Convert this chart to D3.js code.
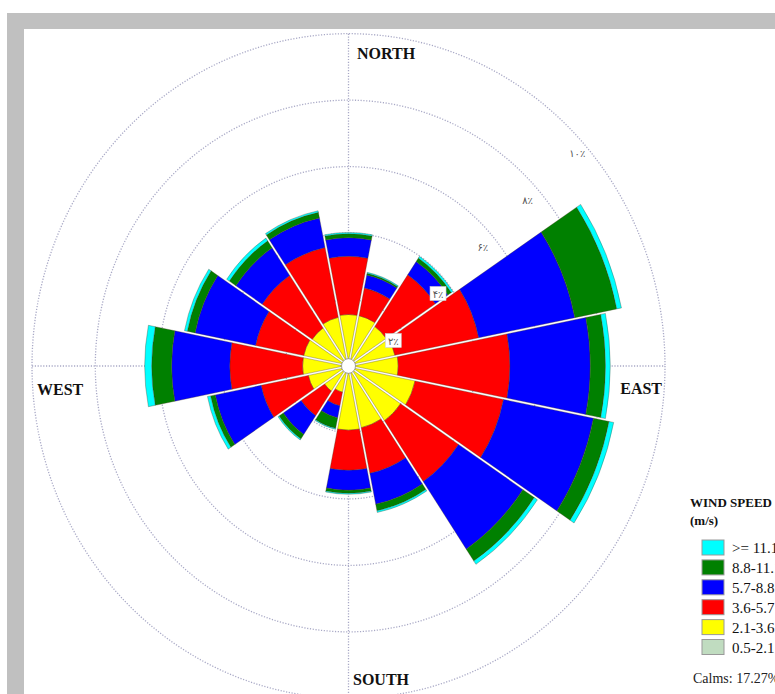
<!DOCTYPE html>
<html>
<head>
<meta charset="utf-8">
<script src="https://cdn.jsdelivr.net/npm/d3@7/dist/d3.min.js"></script>
<style>
  html, body { margin: 0; padding: 0; background: #fff; }
  svg { display: block; }
</style>
</head>
<body>
<svg id="chart" width="775" height="694"></svg>
<script>
// Wind directions, clockwise from north
const directions = ["N","NNE","NE","ENE","E","ESE","SE","SSE","S","SSW","SW","WSW","W","WNW","NW","NNW"];

// Frequency (%) of each wind speed class per direction
const speed05to21  = [0.15,0.15,0.15,0.15,0.15,0.15,0.15,0.15,0.15,0.15,0.15,0.15,0.15,0.15,0.15,0.15];
const speed21to36  = [1.40,1.40,1.30,1.35,1.42,2.00,1.85,1.75,1.78,0.66,0.78,1.15,1.30,1.30,1.25,1.35];
const speed36to57  = [1.75,0.85,1.87,2.70,3.53,2.85,2.20,1.40,1.21,0.42,0.89,1.52,2.30,1.55,1.90,2.14];
const speed57to88  = [0.56,0.40,0.48,3.10,2.54,2.90,2.45,0.95,0.60,0.37,0.68,1.48,1.84,1.95,1.00,0.91];
const speed88to111 = [0.12,0.05,0.13,1.35,0.48,0.50,0.43,0.20,0.09,0.32,0.16,0.15,0.63,0.25,0.25,0.17];
const speedOver111 = [0.04,0.03,0.06,0.15,0.15,0.15,0.12,0.05,0.03,0.03,0.04,0.10,0.22,0.09,0.10,0.05];

// Speed classes, drawn from the center outward
const classLabels = ["0.5-2.1","2.1-3.6","3.6-5.7","5.7-8.8","8.8-11.1",">= 11.1"];
const classColors = ["#c0dcc0","#ffff00","#ff0000","#0000ff","#008000","#00ffff"];
const classValues = [speed05to21, speed21to36, speed36to57, speed57to88, speed88to111, speedOver111];

// Ring ticks (%) and their labels
const ringTicks = [2, 4, 6, 8, 10];
const ringLabels = ["۲٪", "۴٪", "۶٪", "۸٪", "۱۰٪"];

const compassLabels = ["NORTH", "EAST", "SOUTH", "WEST"];
const calmsText = "Calms: 17.27%";

const svg = d3.select("#chart");
const W = 775, H = 694;
const cx = 348.5, cy = 366, stretchY = 1.05;

// Page frame
svg.append("rect").attr("x", 0).attr("y", 0).attr("width", W).attr("height", H).attr("fill", "#fff");
svg.append("rect").attr("x", 7).attr("y", 13).attr("width", W - 7).attr("height", 16).attr("fill", "#c0c0c0");
svg.append("rect").attr("x", 7).attr("y", 13).attr("width", 17).attr("height", H - 13).attr("fill", "#c0c0c0");

const r = d3.scaleLinear().domain([0, 10]).range([0, 316.5]);
const angle = d3.scaleBand().domain(directions).range([0, 2 * Math.PI]);
const step = angle.step();

const g = svg.append("g").attr("transform", `translate(${cx},${cy}) scale(1,${stretchY})`);

// Grid: dotted rings and crosshair
const gridColor = "#a9a9c6";
g.selectAll("circle.ring").data(ringTicks).join("circle")
  .attr("class", "ring")
  .attr("r", d => r(d))
  .attr("fill", "none")
  .attr("stroke", gridColor)
  .attr("stroke-width", 1.3)
  .attr("stroke-dasharray", "1.2,1.6")
  .attr("vector-effect", "non-scaling-stroke");
g.append("line").attr("x1", 0).attr("x2", 0).attr("y1", -r(10)).attr("y2", r(10))
  .attr("stroke", gridColor).attr("stroke-width", 1.3).attr("stroke-dasharray", "1.2,1.6")
  .attr("vector-effect", "non-scaling-stroke");
g.append("line").attr("y1", 0).attr("y2", 0).attr("x1", -r(10)).attr("x2", r(10))
  .attr("stroke", gridColor).attr("stroke-width", 1.3).attr("stroke-dasharray", "1.2,1.6")
  .attr("vector-effect", "non-scaling-stroke");

// Stack the speed classes per direction
const segments = [];
directions.forEach((dir, i) => {
  let acc = 0;
  classValues.forEach((vals, k) => {
    const v = vals[i];
    segments.push({ dir, k, inner: acc, outer: acc + v });
    acc += v;
  });
});

const arc = d3.arc()
  .innerRadius(d => r(d.inner))
  .outerRadius(d => r(d.outer))
  .startAngle(d => angle(d.dir) - step / 2)
  .endAngle(d => angle(d.dir) + step / 2)
  .padAngle(0.02)
  .padRadius(100);

g.selectAll("path.petal").data(segments).join("path")
  .attr("class", "petal")
  .attr("d", arc)
  .attr("fill", d => classColors[d.k])
  .attr("stroke", "rgba(70,55,30,0.55)")
  .attr("stroke-width", 0.6)
  .attr("vector-effect", "non-scaling-stroke");

// Calm circle
g.append("circle").attr("r", 7).attr("fill", "#fff")
  .attr("stroke", "#8a8a8a").attr("stroke-width", 0.8)
  .attr("vector-effect", "non-scaling-stroke");

// Ring labels along the NE diagonal
const diag = Math.PI / 4;
const lab = svg.append("g").selectAll("g").data(ringTicks).join("g")
  .attr("transform", d => `translate(${cx + r(d) * Math.sin(diag) + (d === 10 ? 5 : 0)},${cy - r(d) * Math.cos(diag) * stretchY + 22})`);
lab.filter((d, i) => i < 2).append("rect")
  .attr("x", -8).attr("y", -7.5).attr("width", 16).attr("height", 14)
  .attr("fill", "#fff").attr("stroke", "#ccc").attr("stroke-width", 0.6);
lab.append("text")
  .attr("text-anchor", "middle")
  .attr("dy", "0.35em")
  .attr("font-family", "DejaVu Sans, sans-serif")
  .attr("font-size", 10)
  .attr("fill", "#555")
  .text((d, i) => ringLabels[i]);

// Compass labels
const serif = "Liberation Serif, Times New Roman, serif";
const compassPos = [
  { x: 357, y: 59, anchor: "start" },
  { x: 662, y: 394, anchor: "end" },
  { x: 353, y: 685, anchor: "start" },
  { x: 37, y: 395, anchor: "start" }
];
svg.append("g").selectAll("text").data(compassLabels).join("text")
  .attr("x", (d, i) => compassPos[i].x)
  .attr("y", (d, i) => compassPos[i].y)
  .attr("text-anchor", (d, i) => compassPos[i].anchor)
  .attr("font-family", serif)
  .attr("font-weight", "bold")
  .attr("font-size", 16)
  .attr("fill", "#111")
  .text(d => d);

// Legend
const legend = svg.append("g");
legend.append("text").attr("x", 690).attr("y", 507)
  .attr("font-family", serif).attr("font-weight", "bold").attr("font-size", 13)
  .attr("fill", "#111").text("WIND SPEED");
legend.append("text").attr("x", 690).attr("y", 525)
  .attr("font-family", serif).attr("font-weight", "bold").attr("font-size", 13)
  .attr("fill", "#111").text("(m/s)");

const legendOrder = d3.range(classLabels.length).reverse();
const rows = legend.selectAll("g.row").data(legendOrder).join("g")
  .attr("class", "row")
  .attr("transform", (d, i) => `translate(702,${540 + i * 19.9})`);
rows.append("rect")
  .attr("width", 22).attr("height", 15)
  .attr("fill", d => classColors[d])
  .attr("stroke", "#999").attr("stroke-width", 1);
rows.append("text")
  .attr("x", 30).attr("y", 13)
  .attr("font-family", serif).attr("font-size", 15)
  .attr("fill", "#111")
  .text(d => classLabels[d]);

legend.append("text").attr("x", 693).attr("y", 683)
  .attr("font-family", serif).attr("font-size", 14)
  .attr("fill", "#222").text(calmsText);
</script>
</body>
</html>
